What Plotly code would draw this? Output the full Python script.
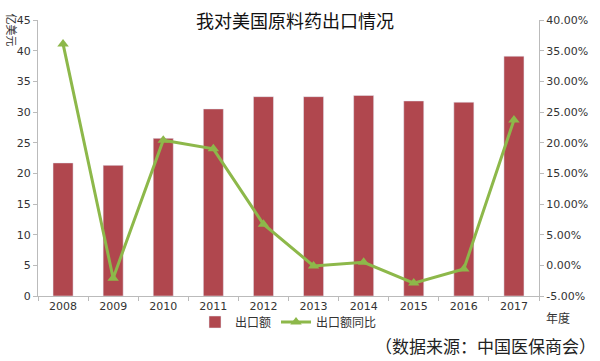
import plotly.graph_objects as go

years = ["2008", "2009", "2010", "2011", "2012", "2013", "2014", "2015", "2016", "2017"]
export_value = [21.7, 21.3, 25.7, 30.5, 32.5, 32.5, 32.7, 31.8, 31.6, 39.1]
yoy_pct = [36.1, -2.1, 20.4, 19.0, 6.7, -0.1, 0.5, -2.9, -0.6, 23.7]
left_ticks = [0, 5, 10, 15, 20, 25, 30, 35, 40, 45]
right_ticks = [-5, 0, 5, 10, 15, 20, 25, 30, 35, 40]

font_tick = dict(family="DejaVu Sans", size=11, color="#333333")
cjk = "Noto Sans CJK SC"

L, R, T, B = 38, 52, 20, 65
W, H = 600, 361
pw = W - L - R
ph = H - T - B


def px(x):
    return (x - L) / pw


def py(y):
    return (H - B - y) / ph


fig = go.Figure()
fig.add_trace(go.Bar(x=years, y=export_value, name="出口额", marker_color="#B0474E",
                     width=0.4, yaxis="y"))
fig.add_trace(go.Scatter(x=years, y=yoy_pct, name="出口额同比", mode="lines+markers",
                         line=dict(color="#8DB84A", width=3),
                         marker=dict(symbol="triangle-up", size=10, color="#8DB84A"),
                         yaxis="y2"))


def ann(text, x, y, size, color="#333333", angle=0):
    return dict(text=text, x=px(x), y=py(y), xref="paper", yref="paper",
                showarrow=False, textangle=angle, xanchor="center", yanchor="middle",
                font=dict(family=cjk, size=size, color=color))


fig.update_layout(
    width=W, height=H,
    margin=dict(l=L, r=R, t=T, b=B),
    plot_bgcolor="white", paper_bgcolor="white",
    showlegend=True,
    legend=dict(orientation="h", x=0.5, xanchor="center", y=py(322), yanchor="middle",
                font=dict(family=cjk, size=12, color="#333333"),
                bgcolor="rgba(0,0,0,0)", traceorder="normal"),
    xaxis=dict(type="category", range=[-0.5, 9.5], showgrid=False, showline=True,
               linecolor="#BBBBBB", ticks="outside", ticklen=4, tickcolor="#BBBBBB",
               tickfont=font_tick, tickson="boundaries"),
    yaxis=dict(range=[0, 45], tickvals=left_ticks, showgrid=False, showline=True,
               linecolor="#BBBBBB", ticks="outside", ticklen=4, tickcolor="#BBBBBB",
               tickfont=font_tick, zeroline=False),
    yaxis2=dict(range=[-5, 40], tickvals=right_ticks, overlaying="y", side="right",
                showgrid=False, showline=True, linecolor="#BBBBBB", ticks="outside",
                ticklen=4, tickcolor="#BBBBBB", tickfont=font_tick, zeroline=False,
                ticktext=[f"{v:.2f}%" for v in right_ticks]),
    annotations=[
        ann("我对美国原料药出口情况", 300, 20, 18, "#111111"),
        ann("亿美元", 12, 30, 11, angle=90),
        ann("年度", 567, 317, 12),
        ann("（数据来源：中国医保商会）", 494, 345, 17, "#222222"),
    ],
)

fig.write_html("out.html", config={"displayModeBar": False},
               post_script="document.body.style.margin='0';")
